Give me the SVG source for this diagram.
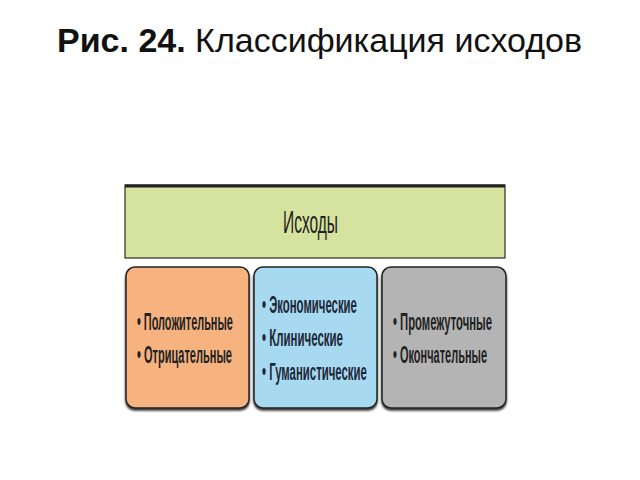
<svg xmlns="http://www.w3.org/2000/svg" width="640" height="480" viewBox="0 0 640 480">
<defs>
<style>
.title{font-family:"Liberation Sans",Arial,sans-serif;font-size:34px;fill:#111}
.hd{font-family:"Liberation Sans",Arial,sans-serif;font-size:31px;fill:#222}
.it{font-family:"Liberation Sans",Arial,sans-serif;font-size:24px;font-weight:bold;fill:#222}
.itb{font-family:"Liberation Sans",Arial,sans-serif;font-size:24px;font-weight:bold;fill:#1c2838}
.box{stroke:#222;stroke-width:1.5}
</style>
<filter id="sh" x="-5%" y="-5%" width="110%" height="115%">
<feDropShadow dx="0" dy="2" stdDeviation="1" flood-color="#000" flood-opacity="0.8"/>
</filter>
</defs>
<rect width="640" height="480" fill="#fff"/>
<text class="title" x="57" y="52"><tspan font-weight="bold">Рис. 24.</tspan> Классификация исходов</text>
<g id="header">
<rect x="125" y="185" width="380" height="73" fill="#d5e39f" stroke="#2a2a2a" stroke-width="1.2"/>
<line x1="125" y1="186" x2="505" y2="186" stroke="#222" stroke-width="3"/>
<text class="hd" transform="translate(283,233) scale(0.5,1)" textLength="110" lengthAdjust="spacingAndGlyphs">Исходы</text>
</g>
<g id="connectors"></g>
<g id="positive">
<rect class="box" x="126" y="267" width="123" height="141" rx="9" fill="#f6b37f" filter="url(#sh)"/>
<text class="it" transform="translate(137,330) scale(0.45,1)" textLength="213" lengthAdjust="spacingAndGlyphs">• Положительные</text>
<text class="it" transform="translate(137,363) scale(0.45,1)" textLength="211" lengthAdjust="spacingAndGlyphs">• Отрицательные</text>
</g>
<g id="economic">
<rect class="box" x="254" y="267" width="123" height="141" rx="9" fill="#a7d9f0" filter="url(#sh)"/>
<text class="itb" transform="translate(262,313) scale(0.45,1)" textLength="211" lengthAdjust="spacingAndGlyphs">• Экономические</text>
<text class="itb" transform="translate(262,346) scale(0.45,1)" textLength="180" lengthAdjust="spacingAndGlyphs">• Клинические</text>
<text class="itb" transform="translate(262,380) scale(0.45,1)" textLength="233" lengthAdjust="spacingAndGlyphs">• Гуманистические</text>
</g>
<g id="intermediate">
<rect class="box" x="382" y="267" width="124" height="141" rx="9" fill="#b4b4b4" filter="url(#sh)"/>
<text class="it" transform="translate(393,330) scale(0.45,1)" textLength="220" lengthAdjust="spacingAndGlyphs">• Промежуточные</text>
<text class="it" transform="translate(393,363) scale(0.45,1)" textLength="209" lengthAdjust="spacingAndGlyphs">• Окончательные</text>
</g>
</svg>
